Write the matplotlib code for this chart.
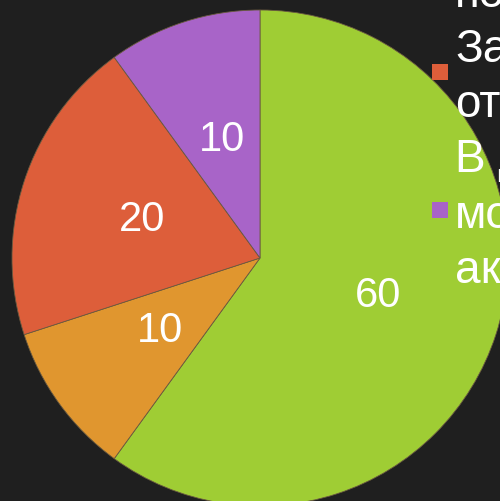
import matplotlib
matplotlib.use('Agg')
from matplotlib import pyplot as plt
from matplotlib.patches import Rectangle

values = [60, 10, 20, 10]
labels = ['60', '10', '20', '10']
colors = ['#9fcd34', '#e0962f', '#dd5e3a', '#a864c8']
legend_lines = ['по', 'За', 'от', 'В д', 'мо', 'ак']
legend_marks = [('#dd5e3a', 72), ('#a864c8', 210)]

bg = '#1f1f1f'
plt.rcParams['font.family'] = ['Liberation Sans', 'DejaVu Sans']

fig = plt.figure(figsize=(5, 5.01), dpi=100, facecolor=bg)
W, H = 500, 501
cx, cy, r = 260, 258, 248
ax = fig.add_axes([(cx - r) / W, (H - cy - r) / H, 2 * r / W, 2 * r / H])
ax.set_facecolor(bg)

wedges, texts = ax.pie(values, labels=labels, colors=colors, startangle=90,
                       counterclock=False, radius=1, labeldistance=0.5,
                       wedgeprops=dict(edgecolor='#6a5a40', linewidth=0.6),
                       textprops=dict(color='white', fontsize=30))
for t in texts:
    t.set_ha('center')
    t.set_va('center')
ax.set_xlim(-1, 1)
ax.set_ylim(-1, 1)
ax.set_aspect('equal')
ax.axis('off')

# cropped legend on the right
baselines = [7, 62, 117, 172, 228, 283]
for txt, yb in zip(legend_lines, baselines):
    fig.text(455 / W, 1 - yb / H, txt, color='white', fontsize=33,
             ha='left', va='baseline')
for c, yc in legend_marks:
    fig.patches.append(Rectangle(((432) / W, 1 - (yc + 8) / H), 16 / W, 16 / H,
                                 transform=fig.transFigure, facecolor=c,
                                 edgecolor='none'))

fig.savefig('out.png', dpi=100, facecolor=bg)
